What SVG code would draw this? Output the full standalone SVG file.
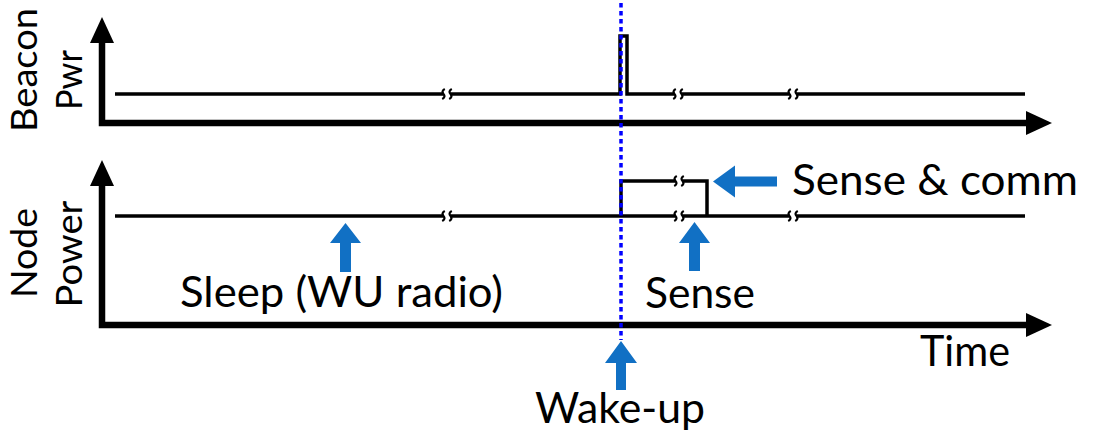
<svg xmlns="http://www.w3.org/2000/svg" width="1097" height="436" viewBox="0 0 1097 436">
  <style>
    .axis { fill: none; stroke: #000; stroke-width: 6.5; stroke-linejoin: miter; marker-start: url(#ah); marker-end: url(#ah); }
    .sig { fill: none; stroke: #000; stroke-width: 3.5; stroke-linejoin: miter; }
    .brk { fill: none; stroke: #000; stroke-width: 2.2; }
    .gap { fill: #fff; }
    .wake { fill: none; stroke: #0000ff; stroke-width: 3.5; stroke-dasharray: 4.5 3.5; }
    .blk { fill: #1170c4; }
    .t { font-family: Lato, "Liberation Sans", sans-serif; font-size: 42px; fill: #000; }
    .ty { font-family: Lato, "Liberation Sans", sans-serif; font-size: 36px; fill: #000; text-anchor: middle; }
  </style>
  <defs>
    <marker id="ah" markerUnits="userSpaceOnUse" viewBox="0 0 26 24" markerWidth="26" markerHeight="24" refX="1" refY="12" orient="auto-start-reverse">
      <path d="M0,0 L26,12 L0,24 Z" fill="#000"/>
    </marker>
    <g id="brk">
      <rect class="gap" x="-3.2" y="-4" width="6.4" height="8"/>
      <path class="brk" d="M-2.2,-5 C-5,-3.5 -5,-1.5 -3.5,0 C-2,1.5 -2,3.5 -4.8,5"/>
      <path class="brk" d="M4.8,-5 C2,-3.5 2,-1.5 3.5,0 C5,1.5 5,3.5 2.2,5"/>
    </g>
  </defs>

  <g id="connectors">
    <path id="axis-beacon" class="axis" d="M102,42 L102,123 L1027,123"/>
    <path id="axis-node" class="axis" d="M102,185 L102,325 L1027,325"/>
  </g>

  <g id="beacon-signal">
    <path class="sig" d="M115,94 L620,94 L620,36 L627,36 L627,94 L1025,94"/>
    <use href="#brk" x="447" y="94"/>
    <use href="#brk" x="678" y="94"/>
    <use href="#brk" x="793" y="94"/>
  </g>

  <g id="node-signal">
    <path class="sig" d="M115,216 L1025,216"/>
    <path class="sig" d="M621,216 L621,181 L707,181 L707,216"/>
    <use href="#brk" x="447" y="216"/>
    <use href="#brk" x="679" y="216"/>
    <use href="#brk" x="793" y="216"/>
    <use href="#brk" x="679" y="181"/>
  </g>

  <g id="wakeup-line">
    <path class="wake" d="M621,3 L621,340"/>
  </g>

  <g id="axis-labels">
    <text class="ty" transform="translate(37,70) rotate(-90)" textLength="124" lengthAdjust="spacingAndGlyphs">Beacon</text>
    <text class="ty" transform="translate(82,80) rotate(-90)" textLength="60" lengthAdjust="spacingAndGlyphs">Pwr</text>
    <text class="ty" transform="translate(37,253) rotate(-90)" textLength="90" lengthAdjust="spacingAndGlyphs">Node</text>
    <text class="ty" transform="translate(82,254) rotate(-90)" textLength="107" lengthAdjust="spacingAndGlyphs">Power</text>
    <text class="t" x="920" y="366" textLength="90" lengthAdjust="spacingAndGlyphs">Time</text>
  </g>

  <g id="annotation-sense-comm">
    <polygon class="blk" points="713,181.5 735,165.5 735,176.5 777,176.5 777,186.5 735,186.5 735,197.5"/>
    <text class="t" x="792" y="195" textLength="286" lengthAdjust="spacingAndGlyphs">Sense &amp; comm</text>
  </g>
  <g id="annotation-sleep">
    <polygon class="blk" points="345.5,223 361,243 351,243 351,272 340,272 340,243 330,243"/>
    <text class="t" x="180" y="307" textLength="323" lengthAdjust="spacingAndGlyphs">Sleep (WU radio)</text>
  </g>
  <g id="annotation-sense">
    <polygon class="blk" points="694.5,222 710,243 700,243 700,271 689,271 689,243 679,243"/>
    <text class="t" x="645" y="308" textLength="110" lengthAdjust="spacingAndGlyphs">Sense</text>
  </g>
  <g id="annotation-wakeup">
    <polygon class="blk" points="621,341 637,363 626,363 626,390 616,390 616,363 605,363"/>
    <text class="t" x="535" y="423" textLength="170" lengthAdjust="spacingAndGlyphs">Wake-up</text>
  </g>
</svg>
